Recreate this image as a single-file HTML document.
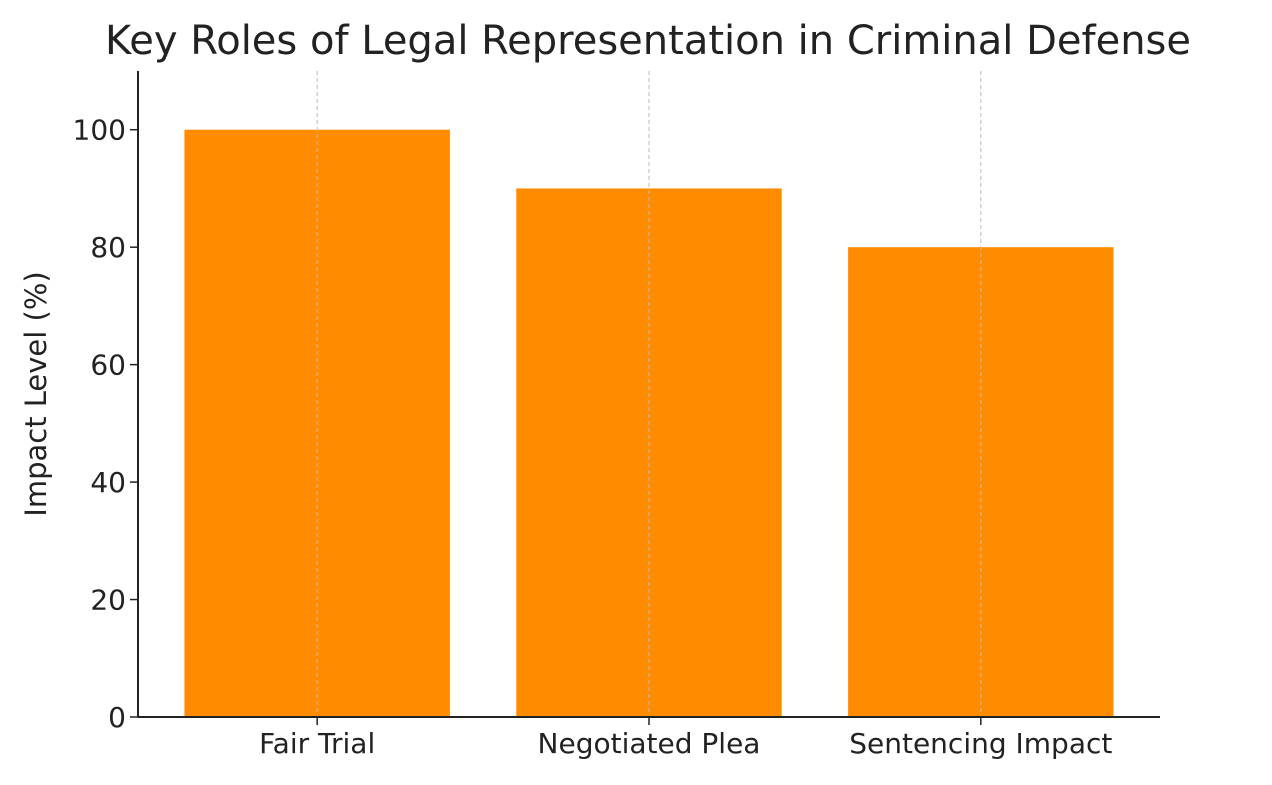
<!DOCTYPE html>
<html><head><meta charset="utf-8"><style>
body{margin:0;background:#fff;}
svg text{font-family:"DejaVu Sans","Liberation Sans",sans-serif;fill:#222;}
</style></head><body>
<svg id="chart" width="1272" height="780" xmlns="http://www.w3.org/2000/svg">
<text x="648" y="54" text-anchor="middle" font-size="40">Key Roles of Legal Representation in Criminal Defense</text>
<text transform="translate(46,394) rotate(-90)" text-anchor="middle" font-size="29">Impact Level (%)</text>
<g id="bars"></g><g id="grid"></g><g id="axes"></g>
</svg>
<script>
const categories=["Fair Trial","Negotiated Plea","Sentencing Impact"];
const values=[100,90,80];
const yTicks=[0,20,40,60,80,100];
const L=138,R=1160,T=71,B=717,yMax=110;
const step=(R-L)/(categories.length+0.08);
const xS=i=>L+step*(i+0.54);
const yS=v=>B-(v/yMax)*(B-T);
const bw=step*0.8;
const NS="http://www.w3.org/2000/svg";
function mk(tag,attrs,parent){const e=document.createElementNS(NS,tag);for(const k in attrs)e.setAttribute(k,attrs[k]);document.getElementById(parent).appendChild(e);return e;}
values.forEach((v,i)=>{
 const r=mk('rect',{x:xS(i)-bw/2,y:yS(v),width:bw,height:B-yS(v),fill:'#ff8c00'},'bars');
 
 
 const g=mk('line',{x1:xS(i),x2:xS(i),y1:T,y2:B,stroke:'#bbb','stroke-width':1,'stroke-dasharray':'4,3'},'grid');
 
 
 const t=mk('line',{x1:xS(i),x2:xS(i),y1:B,y2:B+8,stroke:'#222','stroke-width':1.5},'axes');
 
 
 const l=mk('text',{x:xS(i),y:B+36,'text-anchor':'middle','font-size':'28'},'axes');
 l.textContent=categories[i];
 
 
});
yTicks.forEach(v=>{
 const t=mk('line',{x1:L-8,x2:L,y1:yS(v),y2:yS(v),stroke:'#222','stroke-width':1.5},'axes');
 
 
 const l=mk('text',{x:L-12,y:yS(v)+10,'text-anchor':'end','font-size':'28'},'axes');
 l.textContent=v;
 
 
});
const ya=mk('line',{x1:L,x2:L,y1:T,y2:B,stroke:'#222','stroke-width':2},'axes');


const xa=mk('line',{x1:L,x2:R,y1:B,y2:B,stroke:'#222','stroke-width':2},'axes');


</script>
</body></html>
